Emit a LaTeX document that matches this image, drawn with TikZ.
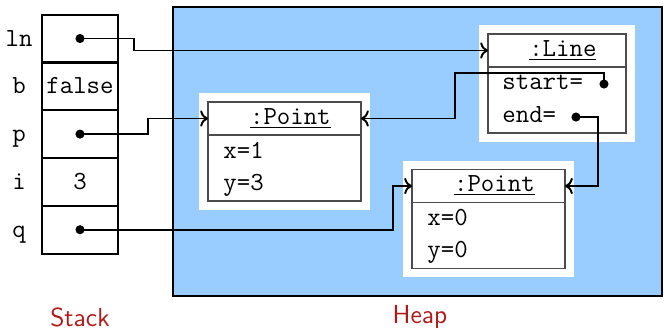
\documentclass[tikz,border=0pt]{standalone}
\usepackage{xcolor}
\usepackage{tikz}
\usetikzlibrary{positioning, arrows.meta, calc, fit, backgrounds}

\definecolor{heapblue}{RGB}{153,204,255}
\definecolor{labelred}{RGB}{180,25,25}

\begin{document}
\begin{tikzpicture}[x=0.46pt, y=-0.46pt, font=\large\ttfamily,
    cell/.style={draw, line width=1pt, minimum width=35pt, minimum height=22pt, inner sep=0pt, outer sep=0pt, text height=1.9ex, text depth=0.3ex},
    varname/.style={inner sep=0pt, text height=1.9ex, text depth=0.3ex},
    dot/.style={circle, fill=black, inner sep=0pt, minimum size=4.2pt},
    objtitle/.style={draw=black!70, line width=0.6pt, minimum width=#1, minimum height=15.2pt, inner sep=0pt, outer sep=0pt},
    objbody/.style={draw=black!70, line width=0.6pt, minimum width=#1, minimum height=30.4pt, inner sep=0pt, outer sep=0pt},
    field/.style={anchor=west, inner sep=0pt, text height=1.6ex, text depth=0.3ex},
    whitebox/.style={fill=white, inner sep=4pt},
    ptr/.style={-{To}, line width=0.9pt}
]
\useasboundingbox (0,0) rectangle (664,329);

% stack
\foreach \name/\val [count=\k from 0] in {ln/, b/false, p/, i/3, q/} {
    \node[cell] (c\name) at (80, 38.5+47.8*\k) {\val};
    \node[varname] (v\name) at (19, 38.5+47.8*\k) {\name};
}
\node[dot] (dln) at (cln) {};
\node[dot] (dp) at (cp) {};
\node[dot] (dq) at (cq) {};

% heap objects
\node[objtitle=63.5pt] (line) at (557, 50.5) {\hspace{.45em}\underline{:Line}};
\node[objbody=63.5pt, below=0pt of line] (lineb) {};
\node[field] (lstart) at ($(lineb.north west)+(14,16.5)$) {start=};
\node[field] (lend) at ($(lineb.north west)+(14,49.5)$) {end=};
\node[dot] (dstart) at ($(lineb.north west)+(116,17)$) {};
\node[dot] (dend) at ($(lineb.north west)+(88,50)$) {};

\node[objtitle=70.4pt] (pt1) at (284.5, 118.5) {\hspace{.45em}\underline{:Point}};
\node[objbody=70.4pt, below=0pt of pt1] (pt1b) {};
\node[field] (pt1x) at ($(pt1b.north west)+(15,17)$) {x=1};
\node[field] (pt1y) at ($(pt1b.north west)+(15,49)$) {y=3};

\node[objtitle=70.4pt] (pt2) at (488.5, 186) {\hspace{.45em}\underline{:Point}};
\node[objbody=70.4pt, below=0pt of pt2] (pt2b) {};
\node[field] (pt2x) at ($(pt2b.north west)+(15,17)$) {x=0};
\node[field] (pt2y) at ($(pt2b.north west)+(15,49)$) {y=0};

\begin{scope}[on background layer]
    \draw[fill=heapblue, line width=0.5pt] (173,7) rectangle (662,296);
    \node[whitebox, fit=(line)(lineb)] (linebg) {};
    \node[whitebox, fit=(pt1)(pt1b)] (pt1bg) {};
    \node[whitebox, fit=(pt2)(pt2b)] (pt2bg) {};
\end{scope}

% references
\draw[ptr] (dln.center) -- ++(54,0) |- (line.west);
\draw[ptr] (dp.center) -- ++(68,0) |- (pt1.west);
\draw[ptr] (dq.center) -- ++(313,0) |- (pt2.west);
\draw[ptr] (dstart.center) |- ++(-149,-11) |- (pt1.east);
\draw[ptr] (dend.center) -- ++(22,0) |- (pt2.east);

\node[font=\large\sffamily, text=labelred] (stacklbl) at (80,317) {Stack};
\node[font=\large\sffamily, text=labelred] (heaplbl) at (420,317) {Heap};

\end{tikzpicture}
\end{document}
